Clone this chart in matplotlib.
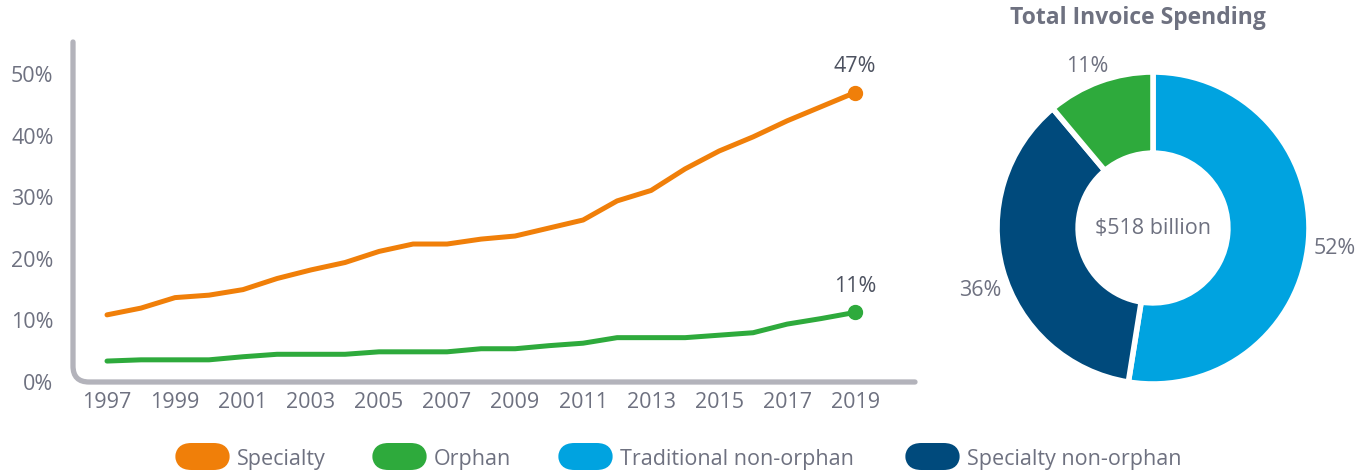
import numpy as np
import matplotlib
matplotlib.use('Agg')
import matplotlib.pyplot as plt
from matplotlib.path import Path
from matplotlib.patches import PathPatch, FancyBboxPatch

plt.rcParams['font.family'] = ['Open Sans', 'DejaVu Sans']

years = list(range(1997, 2020))
specialty = [10.9, 12.0, 13.7, 14.1, 15.0, 16.8, 18.2, 19.4, 21.2, 22.4, 22.4,
             23.2, 23.7, 25.0, 26.3, 29.4, 31.1, 34.6, 37.5, 39.8, 42.4, 44.7, 47.0]
orphan = [3.4, 3.6, 3.6, 3.6, 4.1, 4.5, 4.5, 4.5, 4.9, 4.9, 4.9,
          5.4, 5.4, 5.9, 6.3, 7.2, 7.2, 7.2, 7.6, 8.0, 9.4, 10.3, 11.3]
end_labels = ['47%', '11%']

pie_names = ['Traditional non-orphan', 'Specialty non-orphan', 'Orphan']
pie_values = [52, 36, 11]
pie_labels = ['52%', '36%', '11%']
pie_total = '$518 billion'
pie_title = 'Total Invoice Spending'

legend_names = ['Specialty', 'Orphan', 'Traditional non-orphan', 'Specialty non-orphan']

ORANGE = '#f07f09'
GREEN = '#2eaa3c'
LIGHTBLUE = '#00a3e0'
DARKBLUE = '#004a7c'
AXGRAY = '#b3b3bb'
TXT = '#6e7180'
DARKTXT = '#4d5260'
FS = 15.5

W, H = 1367, 472
fig = plt.figure(figsize=(W / 100, H / 100), dpi=100)


def fx(x):
    return x / W


def fy(y):
    return 1 - y / H


# line chart
ax = fig.add_axes([fx(73), fy(382), fx(915) - fx(73), fy(42) - fy(382)])
ax.plot(years, specialty, color=ORANGE, lw=3.6, solid_capstyle='round', solid_joinstyle='round')
ax.plot(years, orphan, color=GREEN, lw=3.6, solid_capstyle='round', solid_joinstyle='round')
ax.plot(years[-1], specialty[-1], 'o', color=ORANGE, ms=10)
ax.plot(years[-1], orphan[-1], 'o', color=GREEN, ms=10)
ax.annotate(end_labels[0], (years[-1], specialty[-1]), xytext=(0, 11), textcoords='offset points',
            ha='center', va='bottom', fontsize=FS, color=DARKTXT)
ax.annotate(end_labels[1], (years[-1], orphan[-1]), xytext=(0, 11), textcoords='offset points',
            ha='center', va='bottom', fontsize=FS, color=DARKTXT)

ax.set_xlim(1996.0, 2020.76)
ax.set_ylim(0, 55.2)
ax.set_xticks(years[::2])
ax.set_yticks([0, 10, 20, 30, 40, 50])
ax.set_yticklabels([f'{v}%' for v in [0, 10, 20, 30, 40, 50]])
ax.tick_params(length=0, labelsize=FS, labelcolor=TXT)
ax.tick_params(axis='y', pad=14)
ax.tick_params(axis='x', pad=7)
for s in ax.spines.values():
    s.set_visible(False)

# rounded L-shaped axis
rx, ry = 16 / 842, 16 / 340
verts = [(0, 1), (0, ry), (0, 0), (rx, 0), (1, 0)]
codes = [Path.MOVETO, Path.LINETO, Path.CURVE3, Path.CURVE3, Path.LINETO]
ax.add_patch(PathPatch(Path(verts, codes), transform=ax.transAxes, fill=False,
                       edgecolor=AXGRAY, lw=3.8, capstyle='round', clip_on=False))

# donut
R = 156
cx, cy = 1153, 228
ax2 = fig.add_axes([fx(cx - R), fy(cy + R), 2 * R / W, 2 * R / H])
ax2.pie(pie_values, colors=[LIGHTBLUE, DARKBLUE, GREEN], startangle=90, counterclock=False,
        radius=1, wedgeprops=dict(width=0.52, edgecolor='white', linewidth=4, joinstyle='round'))
ax2.set_xlim(-1, 1)
ax2.set_ylim(-1, 1)
ax2.set_aspect('equal')
ax2.axis('off')
ax2.text(0, 0, pie_total, ha='center', va='center', fontsize=FS, color=TXT)
ax2.text((1335 - cx) / R, (cy - 248) / R, pie_labels[0], ha='center', va='center', fontsize=FS, color=TXT, clip_on=False)
ax2.text((980 - cx) / R, (cy - 290) / R, pie_labels[1], ha='center', va='center', fontsize=FS, color=TXT, clip_on=False)
ax2.text((1087 - cx) / R, (cy - 67) / R, pie_labels[2], ha='center', va='center', fontsize=FS, color=TXT, clip_on=False)
fig.text(fx(1138), fy(18), pie_title, ha='center', va='center', fontsize=16.5, fontweight='bold', color=TXT)

# legend
legend_colors = [ORANGE, GREEN, LIGHTBLUE, DARKBLUE]
legend_x = [175, 372, 558, 905]
for name, col, x0 in zip(legend_names, legend_colors, legend_x):
    fig.patches.append(FancyBboxPatch((fx(x0), fy(470)), fx(55), 27 / H,
                                      boxstyle='round,pad=0,rounding_size=0.012',
                                      transform=fig.transFigure, facecolor=col, edgecolor='none',
                                      mutation_aspect=W / H))
    fig.text(fx(x0 + 62), fy(459), name, ha='left', va='center', fontsize=FS, color=TXT)

fig.savefig('out.png', dpi=100)
